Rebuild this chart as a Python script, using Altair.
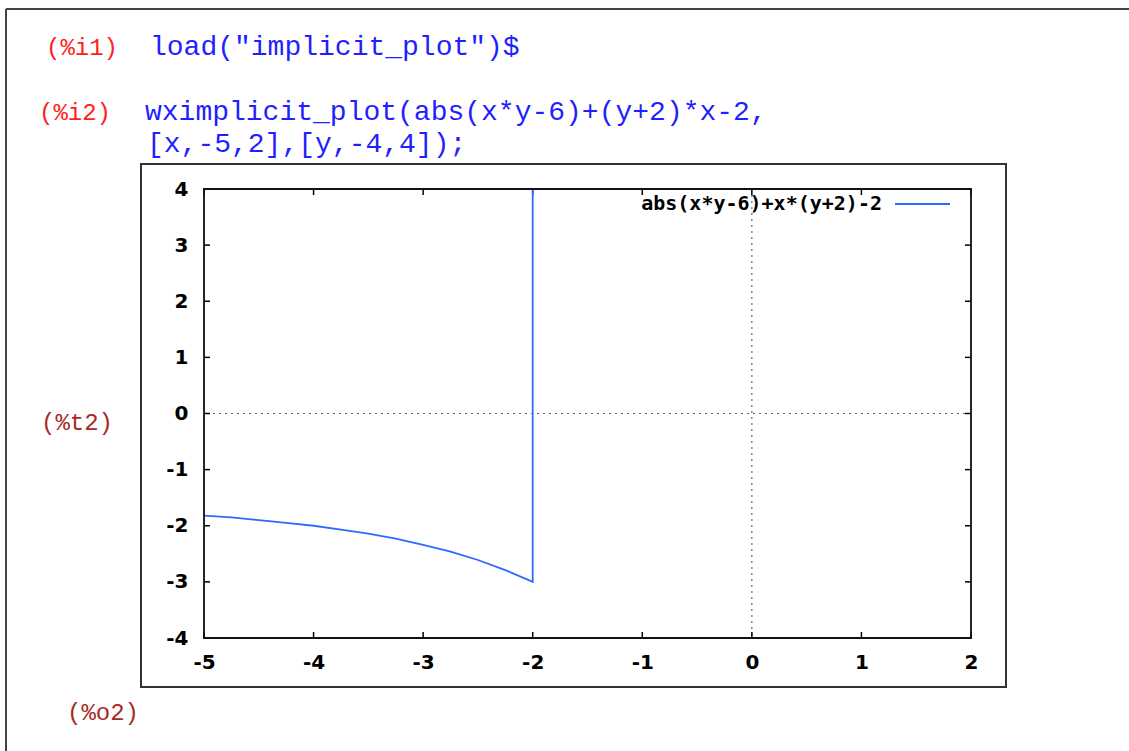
import altair as alt
import pandas as pd

# ---- data ----
x_vals = [-5, -4.75, -4.5, -4.25, -4, -3.75, -3.5, -3.25, -3, -2.75, -2.5, -2.25, -2, -2]
y_vals = [-1.82, -1.85, -1.9, -1.95, -2.0, -2.07, -2.14, -2.23, -2.34, -2.46, -2.61, -2.79, -3.0, 4.0]
x_ticks = [-5, -4, -3, -2, -1, 0, 1, 2]
y_ticks = [-4, -3, -2, -1, 0, 1, 2, 3, 4]
legend_label = "abs(x*y-6)+x*(y+2)-2"
prompt_labels = ["(%i1)", "(%i2)", "(%t2)", "(%o2)"]
code_lines = ['load("implicit_plot")$', 'wximplicit_plot(abs(x*y-6)+(y+2)*x-2,', '[x,-5,2],[y,-4,4]);']

# ---- layout / style ----
W, H = 767, 449
LEFT, TOP = 204, 189
BLUE = "#2a6bff"
TICKFONT = "DejaVu Sans"
LEGENDFONT = "DejaVu Sans Mono"
LABEL_EXPR = "datum.value < 0 ? '-' + abs(datum.value) : '' + datum.value"

curve = pd.DataFrame({"x": x_vals, "y": y_vals, "i": list(range(len(x_vals)))})
xs = alt.Scale(domain=[-5, 2], nice=False, zero=False)
ys = alt.Scale(domain=[-4, 4], nice=False, zero=False)

x_axis = alt.Axis(values=x_ticks, title=None, ticks=False, domain=False, grid=False,
                  labelFont=TICKFONT, labelFontWeight="bold", labelFontSize=20,
                  labelColor="black", labelPadding=14, labelExpr=LABEL_EXPR, labelFlush=False)
y_axis = alt.Axis(values=y_ticks, title=None, ticks=False, domain=False, grid=False,
                  labelFont=TICKFONT, labelFontWeight="bold", labelFontSize=20,
                  labelColor="black", labelPadding=16, labelExpr=LABEL_EXPR, labelFlush=False)

line = alt.Chart(curve).mark_line(color=BLUE, strokeWidth=1.8).encode(
    x=alt.X("x:Q", scale=xs, axis=x_axis),
    y=alt.Y("y:Q", scale=ys, axis=y_axis),
    order="i:Q",
)

zero_v = alt.Chart(pd.DataFrame({"x": [0]})).mark_rule(
    color="#666", strokeDash=[2, 4], strokeWidth=1.2).encode(x=alt.X("x:Q", scale=xs))
zero_h = alt.Chart(pd.DataFrame({"y": [0]})).mark_rule(
    color="#666", strokeDash=[2, 4], strokeWidth=1.2).encode(y=alt.Y("y:Q", scale=ys))

xt = pd.DataFrame({"x": x_ticks})
yt = pd.DataFrame({"y": y_ticks})
tick_style = dict(color="black", strokeWidth=1.5)
t_bottom = alt.Chart(xt).mark_rule(**tick_style).encode(
    x=alt.X("x:Q", scale=xs), y=alt.value(H), y2=alt.value(H - 6))
t_top = alt.Chart(xt).mark_rule(**tick_style).encode(
    x=alt.X("x:Q", scale=xs), y=alt.value(0), y2=alt.value(6))
t_left = alt.Chart(yt).mark_rule(**tick_style).encode(
    y=alt.Y("y:Q", scale=ys), x=alt.value(0), x2=alt.value(6))
t_right = alt.Chart(yt).mark_rule(**tick_style).encode(
    y=alt.Y("y:Q", scale=ys), x=alt.value(W), x2=alt.value(W - 6))

one = alt.Data(values=[{}])

plot_frame = alt.Chart(one).mark_rect(
    fillOpacity=0, stroke="#111", strokeWidth=1.8).encode(
    x=alt.value(0), x2=alt.value(W), y=alt.value(0), y2=alt.value(H))

legend_text = alt.Chart(one).mark_text(
    text=legend_label, align="right", baseline="middle", font=LEGENDFONT,
    fontWeight="bold", fontSize=20, color="black").encode(
    x=alt.value(678), y=alt.value(15))
legend_line = alt.Chart(one).mark_rule(color=BLUE, strokeWidth=1.8).encode(
    x=alt.value(691), x2=alt.value(746), y=alt.value(15))

outer_frame = alt.Chart(one).mark_rect(
    fillOpacity=0, stroke="#333", strokeWidth=2).encode(
    x=alt.value(-63), x2=alt.value(802), y=alt.value(-25), y2=alt.value(498))

page_top = alt.Chart(one).mark_rule(color="#444", strokeWidth=2).encode(
    x=alt.value(-198), x2=alt.value(925), y=alt.value(-180))
page_left = alt.Chart(one).mark_rule(color="#444", strokeWidth=2).encode(
    x=alt.value(-198), y=alt.value(-180), y2=alt.value(562))


def txt(label, x, y, color, size):
    return alt.Chart(one).mark_text(
        text=label, align="left", baseline="alphabetic", font="Liberation Mono",
        fontSize=size, color=color).encode(x=alt.value(x), y=alt.value(y))


RED = "#ff2020"
DARKRED = "#a82828"
CODE = "#1f1fff"
texts = [
    txt(prompt_labels[0], 46 - LEFT, 55 - TOP, RED, 24),
    txt(code_lines[0], 150 - LEFT, 55 - TOP, CODE, 28),
    txt(prompt_labels[1], 39 - LEFT, 120 - TOP, RED, 24),
    txt(code_lines[1], 145 - LEFT, 120 - TOP, CODE, 28),
    txt(code_lines[2], 147 - LEFT, 152 - TOP, CODE, 28),
    txt(prompt_labels[2], 41 - LEFT, 430 - TOP, DARKRED, 24),
    txt(prompt_labels[3], 67 - LEFT, 720 - TOP, DARKRED, 24),
]

chart = alt.layer(
    page_top, page_left, outer_frame, zero_v, zero_h,
    t_bottom, t_top, t_left, t_right, line, plot_frame, legend_line, legend_text, *texts
).properties(
    width=W, height=H,
    autosize=alt.AutoSizeParams(type="none"),
    padding={"left": LEFT, "top": TOP, "right": 1129 - LEFT - W, "bottom": 751 - TOP - H},
).configure_view(stroke=None).configure(background="white")

chart.save("out.html", embed_options={"renderer": "svg", "actions": False})
